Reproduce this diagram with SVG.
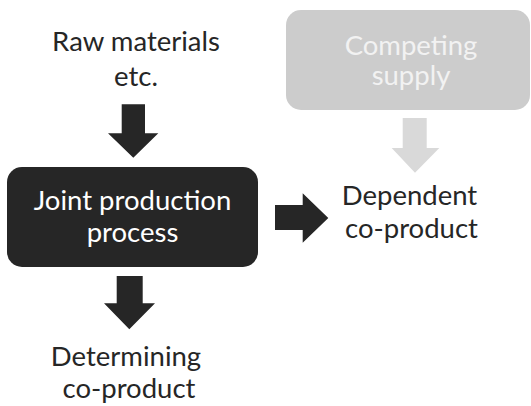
<svg xmlns="http://www.w3.org/2000/svg" width="531" height="406" viewBox="0 0 531 406">
<style>
text{font-family:Lato,"Open Sans","Liberation Sans",sans-serif;font-size:27.5px;text-anchor:middle}
.dk{fill:#262626}
.wt{fill:#ffffff}
.lt{fill:#f2f2f2}
.arr{fill:#262626}
.garr{fill:#d9d9d9}
</style>
<rect width="531" height="406" fill="#ffffff"/>
<g id="raw-materials">
<text class="dk" x="136" y="50.7">Raw materials</text>
<text class="dk" x="136" y="86">etc.</text>
</g>
<g id="joint-production">
<rect x="7" y="167" width="251" height="100" rx="15" fill="#262626"/>
<text class="wt" x="132.5" y="210">Joint production</text>
<text class="wt" x="132.5" y="241.7">process</text>
</g>
<g id="competing-supply">
<rect x="286" y="10" width="244" height="100" rx="15" fill="#cccccc"/>
<text class="lt" x="411" y="55">Competing</text>
<text class="lt" x="411" y="85">supply</text>
</g>
<g id="dependent">
<text class="dk" x="409.5" y="205">Dependent</text>
<text class="dk" x="411.5" y="238.3">co-product</text>
</g>
<g id="determining">
<text class="dk" x="126" y="366">Determining</text>
<text class="dk" x="129" y="398">co-product</text>
</g>
<g id="connectors">
<polygon class="arr" points="121.7,104.3 145,104.3 145,133.3 158.3,133.3 133.3,157.7 108,133.3 121.7,133.3"/>
<polygon class="arr" points="116.7,276 142.7,276 142.7,303.3 155,303.3 129.3,329.3 104,303.3 116.7,303.3"/>
<polygon class="arr" points="275,205 302.7,205 302.7,193.3 328.3,218 302.7,242.7 302.7,230 275,230"/>
<polygon class="garr" points="402.7,118 426.7,118 426.7,148 439.3,148 415,172.7 391.7,148 402.7,148"/>
</g>
</svg>
